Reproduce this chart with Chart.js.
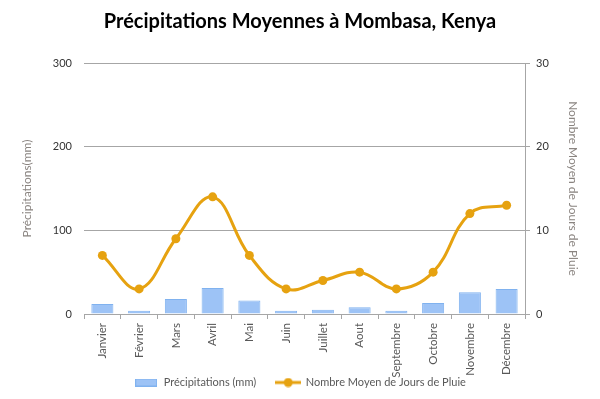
<!DOCTYPE html>
<html>
<head>
<meta charset="utf-8">
<script src="https://cdn.jsdelivr.net/npm/chart.js@4.4.1/dist/chart.umd.min.js"></script>
<style>
html,body{margin:0;padding:0;background:#fff;}
#wrap{width:600px;height:399px;position:relative;}
</style>
</head>
<body>
<div id="wrap"><canvas id="c" width="600" height="399"></canvas></div>
<script>
const months = ['Janvier','Février','Mars','Avril','Mai','Juin','Juillet','Aout','Septembre','Octobre','Novembre','Décembre'];
const precipitation = [12,4,18,31,16,4,5,8,4,13,26,30];
const rainyDays = [7,3,9,14,7,3,4,5,3,5,12,13];
const precipTicksMax = 300;
const daysTicksMax = 30;

const BAR_FILL = '#9dc3f6';
const BAR_BORDER = '#80b2ef';
const LINE_COLOR = '#e6a210';
const GRID = '#a6a6a6';
const FONT = 'Lato, "Open Sans", sans-serif';

function barIcon(){
  const c = document.createElement('canvas'); c.width = 22; c.height = 8;
  const x = c.getContext('2d');
  x.fillStyle = BAR_FILL; x.fillRect(0,0,22,8);
  x.strokeStyle = BAR_BORDER; x.lineWidth = 1; x.strokeRect(0.5,0.5,21,7);
  return c;
}
function lineIcon(){
  const c = document.createElement('canvas'); c.width = 26; c.height = 10;
  const x = c.getContext('2d');
  x.strokeStyle = LINE_COLOR; x.lineWidth = 3;
  x.beginPath(); x.moveTo(0,5); x.lineTo(26,5); x.stroke();
  x.fillStyle = LINE_COLOR; x.beginPath(); x.arc(13,5,4.5,0,Math.PI*2); x.fill();
  return c;
}
const icons = [barIcon(), lineIcon()];

new Chart(document.getElementById('c'), {
  data: {
    labels: months,
    datasets: [
      {
        type: 'bar',
        label: 'Précipitations (mm)',
        data: precipitation,
        yAxisID: 'y',
        backgroundColor: BAR_FILL,
        borderColor: BAR_BORDER,
        borderWidth: 1,
        barPercentage: 0.6,
        categoryPercentage: 1,
        order: 2
      },
      {
        type: 'line',
        label: 'Nombre Moyen de Jours de Pluie',
        data: rainyDays,
        yAxisID: 'y1',
        borderColor: LINE_COLOR,
        backgroundColor: LINE_COLOR,
        borderWidth: 3,
        pointRadius: 4.5,
        pointBackgroundColor: LINE_COLOR,
        pointBorderWidth: 0,
        tension: 0.4,
        order: 1
      }
    ]
  },
  options: {
    responsive: false,
    animation: false,
    devicePixelRatio: 1,
    layout: { padding: { left: 0, right: 0, top: 0, bottom: 1 } },
    plugins: {
      title: {
        display: true,
        text: 'Précipitations Moyennes à Mombasa, Kenya',
        color: '#000',
        font: { family: FONT, size: 20, weight: 'bold' },
        padding: { top: 10, bottom: 29 }
      },
      legend: {
        display: true,
        position: 'bottom',
        labels: {
          usePointStyle: true,
          pointStyleWidth: 24,
          boxHeight: 10,
          padding: 20,
          color: '#595959',
          font: { family: FONT, size: 11 },
          generateLabels(chart){
            return chart.data.datasets.map((d,i)=>({
              text: d.label,
              pointStyle: icons[i],
              fillStyle: 'transparent',
              strokeStyle: 'transparent',
              lineWidth: 0,
              fontColor: '#595959',
              datasetIndex: i,
              hidden: false
            }));
          }
        }
      },
      tooltip: { enabled: false }
    },
    scales: {
      x: {
        grid: { drawOnChartArea: false, drawTicks: true, tickLength: 5, color: GRID, offset: true },
        border: { display: true, color: GRID, width: 1 },
        ticks: { maxRotation: 90, minRotation: 90, color: '#595959', font: { family: FONT, size: 11.5 }, padding: 4 },
        afterFit(s){ s.height = 43; s._computeLabelArea = () => undefined; }
      },
      y: {
        position: 'left',
        min: 0, max: precipTicksMax,
        ticks: { stepSize: 100, color: '#333', font: { family: FONT, size: 11 }, padding: 12 },
        grid: { drawTicks: false, color: GRID },
        border: { display: false },
        title: { display: true, text: 'Précipitations(mm)', color: '#8a8480', font: { family: FONT, size: 12 }, padding: { top: 20, bottom: 0 } },
        afterFit(s){ s.width = 84; }
      },
      y1: {
        position: 'right',
        min: 0, max: daysTicksMax,
        ticks: { stepSize: 10, color: '#333', font: { family: FONT, size: 11 }, padding: 6 },
        grid: { drawOnChartArea: false, drawTicks: true, tickLength: 5, color: GRID },
        border: { display: true, color: GRID },
        title: { display: true, text: 'Nombre Moyen de Jours de Pluie', color: '#8a8480', font: { family: FONT, size: 12 }, padding: { top: 20, bottom: 0 } },
        afterFit(s){ s.width = 75; }
      }
    }
  }
});
</script>
</body>
</html>
